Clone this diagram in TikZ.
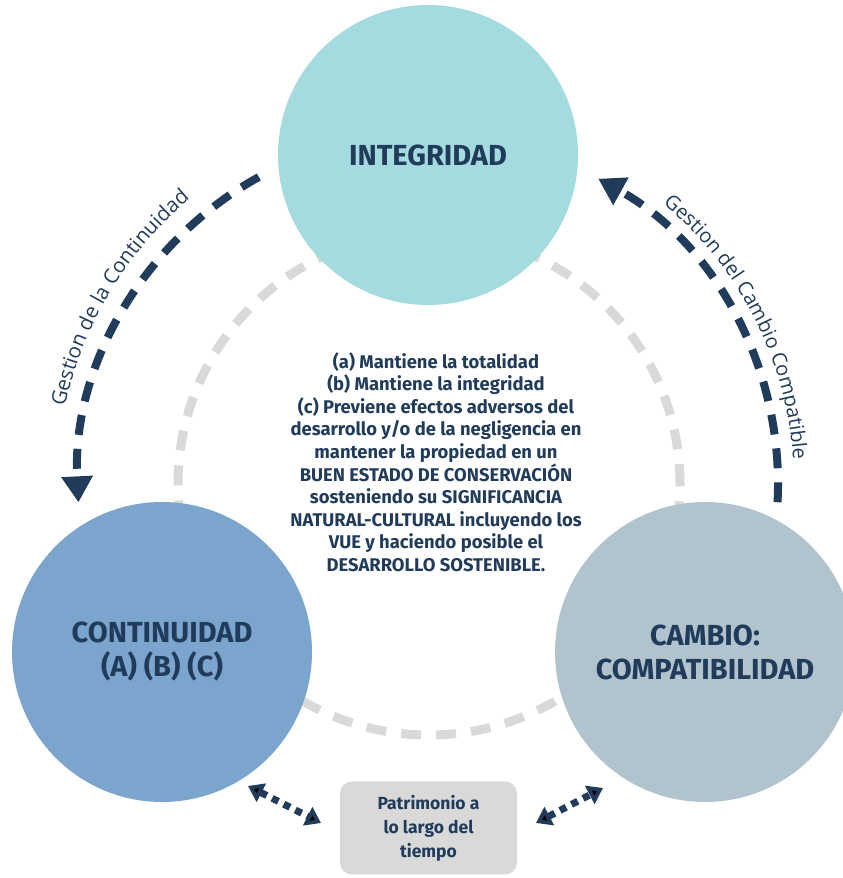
\documentclass[tikz,border=0pt]{standalone}
\usepackage{fontspec}
\setmainfont{Fira Sans}
\newfontfamily\arcfont{Open Sans}
\usepackage{tikz}
\usetikzlibrary{arrows.meta}
\usetikzlibrary{decorations.text}
\definecolor{navy}{HTML}{213B5B}
\definecolor{integcol}{HTML}{A4DBDF}
\definecolor{contcol}{HTML}{7BA5CD}
\definecolor{cambcol}{HTML}{B1C4CD}
\definecolor{ringgray}{HTML}{D9D9D9}

\begin{document}
\begin{tikzpicture}[x=1pt,y=1pt,
    bigcircle/.style={circle,minimum size=300pt,inner sep=0pt,text=navy,align=center,
        font=\bfseries\fontsize{29}{34}\selectfont},
    ringdash/.style={draw=ringgray,line width=9pt,dash pattern=on 20pt off 15pt},
    navyarc/.style={draw=navy,line width=8pt,dash pattern=on 20pt off 14pt},
    dotarrow/.style={draw=navy,line width=7pt,dash pattern=on 7pt off 6pt,
        {Triangle[width=20pt,length=15pt]}-{Triangle[width=20pt,length=15pt]}}]
    \useasboundingbox (0,0) rectangle (843,878);
    \coordinate (ring) at (429,394);
	\draw[ringdash] (ring) circle[radius=251];
	\node (integ) at (428,723) [bigcircle,fill=integcol] {INTEGRIDAD};
	\node (cont) at (162,226) [bigcircle,fill=contcol] {CONTINUIDAD\\(A) (B) (C)};
	\node (camb) at (705,226) [bigcircle,fill=cambcol] {CAMBIO:\\COMPATIBILIDAD};
	\node (note) at (436,416) [align=center,text=navy,font=\bfseries\fontsize{18.4}{22.6}\selectfont]
	    {(a) Mantiene la totalidad\\(b) Mantiene la integridad\\(c) Previene efectos adversos del\\
	     desarrollo y/o de la negligencia en\\mantener la propiedad en un\\
	     BUEN ESTADO DE CONSERVACIÓN\\sosteniendo su SIGNIFICANCIA\\
	     NATURAL-CULTURAL incluyendo los\\VUE y haciendo posible el\\DESARROLLO SOSTENIBLE.};
	\node (box) at (428.5,50) [rectangle,rounded corners=12pt,fill=ringgray,minimum width=177pt,
	    minimum height=93pt,align=center,text=navy,font=\bfseries\fontsize{17.5}{24}\selectfont]
	    {Patrimonio a\\lo largo del\\tiempo};
	% dashed arcs between the circles
	\draw[navyarc,-{Triangle[width=30pt,length=26pt]}] (ring) ++(119:351) arc[start angle=119,end angle=183,radius=351];
	\draw[navyarc,-{Triangle[width=30pt,length=26pt]}] (ring) ++(-3:349) arc[start angle=-3,end angle=61,radius=349];
	\path[decorate,decoration={text along path,text align=center,text color=navy,
	    text={|\arcfont\fontsize{20.5}{20.5}\selectfont|Gestion de la Continuidad}}]
	    (ring) ++(172:372) arc[start angle=172,end angle=126,radius=372];
	\path[decorate,decoration={text along path,text align=center,text color=navy,
	    text={|\arcfont\fontsize{20}{20}\selectfont|Gestion del Cambio Compatible}}]
	    (ring) ++(55:365) arc[start angle=55,end angle=-1,radius=365];
	% dotted links to the box
	\coordinate (lt) at (248,92);
	\coordinate (lb) at (321,55);
	\coordinate (rb) at (536,55);
	\coordinate (rt) at (603,90);
	\draw[dotarrow] (lt) -- (lb);
	\draw[dotarrow] (rb) -- (rt);
\end{tikzpicture}
\end{document}
